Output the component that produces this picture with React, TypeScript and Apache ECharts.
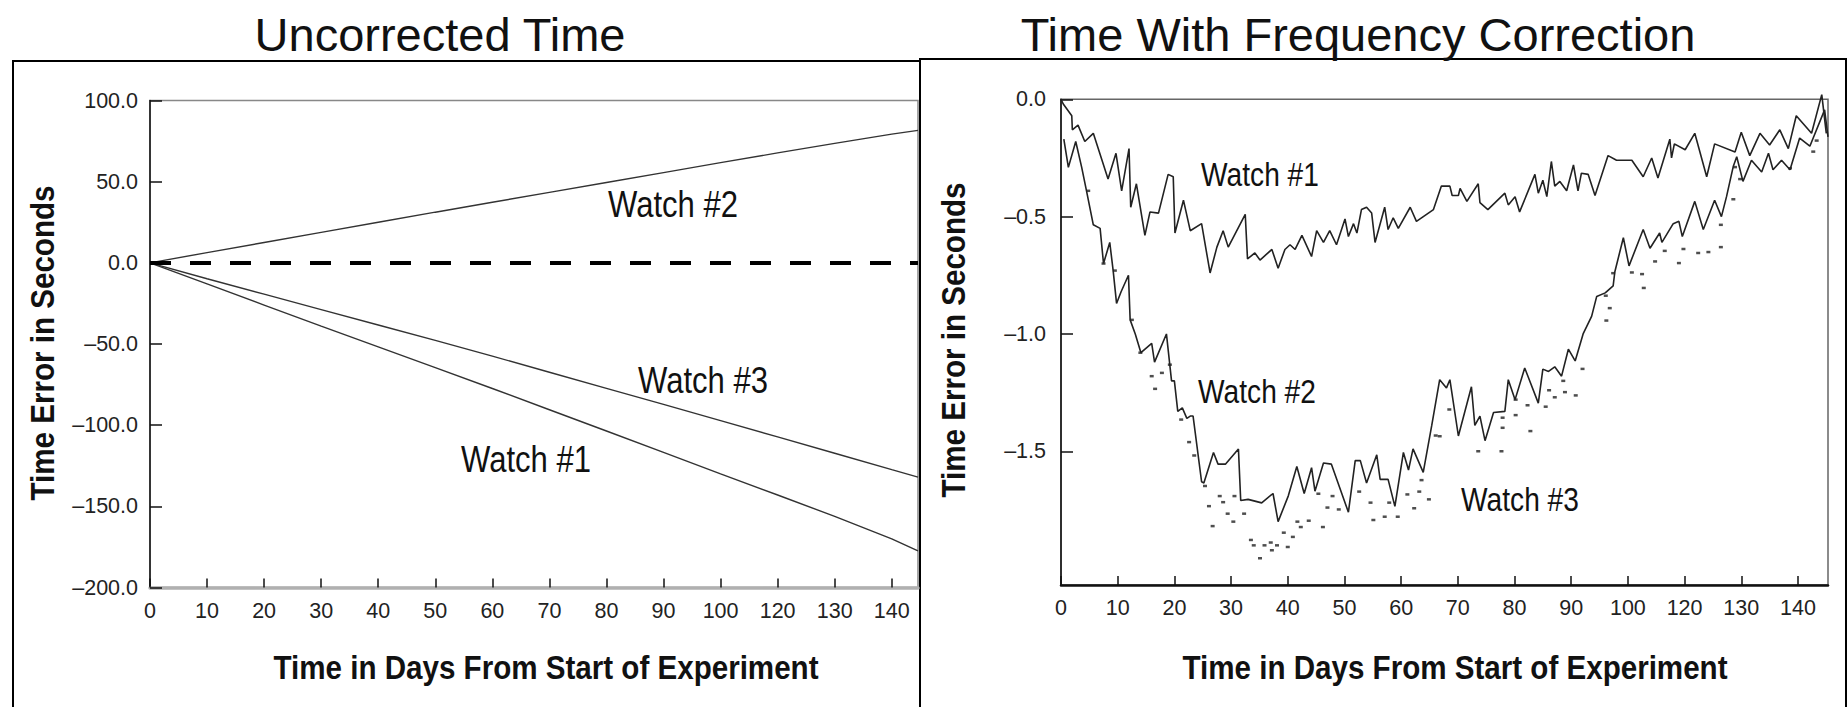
import React, { useEffect, useRef } from "react";
import * as echarts from "echarts";

// Shared day axis (the printed labels skip 110)
const dayTicks = [0, 10, 20, 30, 40, 50, 60, 70, 80, 90, 100, 110, 120, 130];
const dayTickLabels = ["0", "10", "20", "30", "40", "50", "60", "70", "80", "90", "100", "120", "130", "140"];

// Uncorrected time axis
const rawTicks = [100, 50, 0, -50, -100, -150, -200];
const rawTickLabels = ["100.0", "50.0", "0.0", "–50.0", "–100.0", "–150.0", "–200.0"];

// Frequency-corrected axis
const corrTicks = [0, -0.5, -1, -1.5];
const corrTickLabels = ["0.0", "–0.5", "–1.0", "–1.5"];

// Uncorrected time error (seconds)
const rawDays = [0, 10, 20, 30, 40, 50, 60, 70, 80, 90, 100, 110, 120, 130, 134.6];
const rawWatch1 = [0, -13.0, -26.0, -39.0, -51.8, -64.6, -77.4, -90.5, -103.6, -116.8, -130.0, -143.0, -156.2, -170.0, -177.5];
const rawWatch2 = [0, 6.3, 12.5, 18.8, 25.0, 31.2, 37.3, 43.4, 49.5, 55.6, 61.7, 67.7, 73.6, 79.3, 81.6];
const rawWatch3 = [0, -9.8, -19.3, -28.8, -38.3, -47.8, -57.5, -67.4, -77.3, -87.2, -97.2, -107.2, -117.3, -127.4, -132.0];

// Time error with frequency correction (seconds)
const corrWatch1: [number, number][] = [
  [0, 0], [0.4, -0.02], [1.9, -0.07], [2.0, -0.13], [3.0, -0.11], [4.2, -0.18], [5.7, -0.145], [8.3, -0.34],
  [9.7, -0.23], [10.7, -0.39], [12.0, -0.21], [12.3, -0.46], [13.3, -0.36], [14.8, -0.58], [15.7, -0.48],
  [17.2, -0.485], [18.9, -0.32], [19.8, -0.33], [20.1, -0.57], [21.6, -0.43], [22.8, -0.56], [24.8, -0.53],
  [26.3, -0.74], [27.5, -0.63], [28.6, -0.56], [29.5, -0.63], [32.5, -0.49], [32.9, -0.68], [34.2, -0.655],
  [35.1, -0.685], [37.2, -0.64], [38.3, -0.72], [39.5, -0.64], [40.4, -0.62], [41.3, -0.64], [42.5, -0.58],
  [44.2, -0.67], [45.1, -0.56], [46.3, -0.61], [47.4, -0.56], [48.6, -0.62], [50.1, -0.51], [50.7, -0.585],
  [51.6, -0.53], [52.2, -0.57], [53.0, -0.47], [53.9, -0.46], [54.8, -0.485], [55.4, -0.61], [57.1, -0.46],
  [57.7, -0.555], [58.6, -0.505], [59.5, -0.55], [61.6, -0.46], [62.7, -0.52], [65.7, -0.47], [67.1, -0.37],
  [68.6, -0.37], [69.0, -0.41], [70.1, -0.41], [70.4, -0.38], [71.6, -0.435], [73.6, -0.36], [73.9, -0.44],
  [75.3, -0.47], [76.8, -0.435], [78.3, -0.4], [78.9, -0.45], [80.1, -0.415], [80.9, -0.48], [83.6, -0.32],
  [84.2, -0.4], [85.0, -0.345], [85.7, -0.415], [86.5, -0.265], [87.1, -0.37], [88.0, -0.35], [89.2, -0.39],
  [90.4, -0.28], [91.2, -0.39], [91.8, -0.315], [93.0, -0.32], [94.2, -0.41], [96.5, -0.24], [98.0, -0.26],
  [100.7, -0.26], [102.7, -0.33], [104.2, -0.25], [105.3, -0.335], [107.4, -0.17], [107.7, -0.25],
  [108.2, -0.19], [110.1, -0.215], [111.8, -0.145], [113.9, -0.33], [115.3, -0.19], [118.9, -0.225],
  [120.0, -0.14], [121.5, -0.24], [123.3, -0.145], [125.0, -0.195], [126.8, -0.13], [128.3, -0.21],
  [129.7, -0.07], [132.4, -0.145], [134.2, 0.02], [135.0, -0.145],
];

const corrWatch2: [number, number][] = [
  [0.5, -0.17], [1.3, -0.29], [2.6, -0.18], [3.65, -0.29], [4.5, -0.39], [5.7, -0.535], [6.9, -0.55],
  [7.5, -0.7], [8.6, -0.61], [9.2, -0.73], [9.8, -0.87], [10.6, -0.82], [11.9, -0.75], [12.2, -0.94],
  [13.1, -1.0], [14.1, -1.08], [16.0, -1.04], [16.5, -1.12], [18.6, -1.0], [19.5, -1.2], [20.0, -1.2],
  [20.6, -1.33], [21.4, -1.315], [22.2, -1.36], [22.8, -1.35], [23.3, -1.35], [24.8, -1.63], [25.2, -1.635],
  [26.9, -1.505], [27.7, -1.555], [29.0, -1.555], [31.3, -1.49], [31.7, -1.71], [33.0, -1.705], [35.4, -1.72],
  [37.4, -1.68], [38.3, -1.8], [40.1, -1.69], [41.6, -1.565], [42.9, -1.68], [44.2, -1.57], [44.8, -1.67],
  [46.3, -1.55], [47.7, -1.555], [50.7, -1.76], [51.9, -1.54], [52.8, -1.54], [53.9, -1.635], [55.7, -1.515],
  [56.3, -1.62], [57.7, -1.62], [58.9, -1.735], [60.4, -1.505], [61.3, -1.58], [62.1, -1.49], [63.9, -1.59],
  [65.4, -1.39], [66.8, -1.195], [68.0, -1.23], [68.6, -1.195], [70.1, -1.435], [72.4, -1.225], [73.0, -1.39],
  [73.9, -1.35], [74.8, -1.455], [76.3, -1.335], [78.3, -1.33], [78.9, -1.195], [80.1, -1.28], [81.8, -1.145],
  [84.2, -1.295], [85.0, -1.15], [86.0, -1.16], [87.1, -1.14], [88.3, -1.18], [89.5, -1.065], [90.7, -1.115],
  [92.1, -1.0], [93.6, -0.925], [94.5, -0.84], [96.0, -0.825], [97.4, -0.795], [97.7, -0.735], [99.2, -0.59],
  [100.2, -0.71], [102.7, -0.555], [103.9, -0.635], [105.6, -0.57], [106.0, -0.61], [108.0, -0.53],
  [109.0, -0.52], [109.6, -0.585], [111.8, -0.435], [113.3, -0.555], [115.3, -0.43], [116.5, -0.5],
  [117.4, -0.415], [118.6, -0.285], [119.2, -0.245], [120.3, -0.35], [121.8, -0.26], [123.6, -0.31],
  [124.8, -0.23], [125.6, -0.3], [127.1, -0.26], [128.6, -0.3], [130.3, -0.165], [132.1, -0.2],
  [134.7, -0.045], [135.3, -0.16],
];

const corrWatch3: [number, number][] = [
  [4.8, -0.39], [7.5, -0.7], [9.5, -0.73], [12.5, -0.94], [14.0, -1.08], [16.0, -1.18], [16.6, -1.234],
  [17.8, -1.166], [19.2, -1.131], [21.2, -1.365], [22.6, -1.461], [23.5, -1.518], [25.4, -1.648],
  [26.1, -1.734], [26.75, -1.819], [28.0, -1.691], [28.6, -1.717], [29.4, -1.766], [30.4, -1.8],
  [30.6, -1.691], [32.3, -1.766], [33.5, -1.878], [34.0, -1.901], [35.1, -1.956], [35.9, -1.901],
  [37.0, -1.889], [37.2, -1.922], [38.1, -1.901], [39.3, -1.847], [40.0, -1.908], [40.9, -1.865],
  [41.7, -1.8], [42.3, -1.823], [43.7, -1.796], [45.4, -1.681], [46.2, -1.823], [47.0, -1.74],
  [47.9, -1.691], [49.0, -1.748], [52.6, -1.672], [54.6, -1.719], [55.1, -1.793], [57.1, -1.779],
  [57.9, -1.719], [59.4, -1.779], [61.1, -1.684], [62.3, -1.743], [63.2, -1.672], [63.6, -1.623],
  [64.9, -1.705], [66.1, -1.433], [66.8, -1.436], [68.5, -1.322], [73.6, -1.5], [77.7, -1.5],
  [77.9, -1.357], [77.9, -1.4], [80.2, -1.28], [80.2, -1.346], [82.3, -1.304], [82.8, -1.414],
  [85.5, -1.31], [86.1, -1.24], [87.1, -1.27], [88.6, -1.2], [88.9, -1.248], [90.8, -1.262], [92.0, -1.149],
  [96.1, -0.837], [96.2, -0.943], [96.8, -0.89], [97.4, -0.741], [100.7, -0.738], [102.5, -0.745],
  [102.8, -0.804], [104.8, -0.691], [106.5, -0.646], [109.0, -0.698], [109.8, -0.638], [112.4, -0.655],
  [114.2, -0.651], [116.4, -0.63], [116.4, -0.535], [118.6, -0.426], [118.9, -0.289], [119.8, -0.34],
  [128.6, -0.294], [132.7, -0.223], [133.3, -0.176],
];

const SANS = "'Liberation Sans', Arial, Helvetica, sans-serif";

function lookup(values: number[], labels: string[]) {
  return (v: number) => {
    const i = values.findIndex((t) => Math.abs(t - v) < 1e-6);
    return i >= 0 ? labels[i] : "";
  };
}

function dayAxis(gridIndex: number, max: number, lineColor: string, lineWidth: number) {
  return {
    type: "value",
    gridIndex,
    min: 0,
    max,
    axisLine: { onZero: false, lineStyle: { color: lineColor, width: lineWidth } },
    axisTick: { inside: true, length: 9, customValues: dayTicks, lineStyle: { color: "#111", width: 1.5 } },
    axisLabel: {
      customValues: dayTicks,
      formatter: lookup(dayTicks, dayTickLabels),
      margin: 12,
      fontFamily: SANS,
      fontSize: 21.5,
      color: "#222",
    },
    splitLine: { show: false },
  };
}

function errorAxis(gridIndex: number, min: number, max: number, ticks: number[], labels: string[], margin: number) {
  return {
    type: "value",
    gridIndex,
    min,
    max,
    axisLine: { onZero: false, lineStyle: { color: "#111", width: 1.5 } },
    axisTick: { inside: true, length: 12, customValues: ticks, lineStyle: { color: "#111", width: 1.5 } },
    axisLabel: {
      customValues: ticks,
      formatter: lookup(ticks, labels),
      margin,
      fontFamily: SANS,
      fontSize: 21.5,
      color: "#222",
    },
    splitLine: { show: false },
  };
}

// Text drawn in a narrowed face: the run is squeezed along its own direction
function text(str: string, x: number, y: number, size: number, weight = "normal", squeeze = 1, rotation = 0) {
  return {
    type: "text",
    x,
    y,
    rotation,
    scaleX: squeeze,
    silent: true,
    style: {
      text: str,
      fontFamily: SANS,
      fontSize: size,
      fontWeight: weight,
      fill: "#111",
      align: "center",
      verticalAlign: "middle",
    },
  };
}

export default function App() {
  const ref = useRef<HTMLDivElement>(null);

  useEffect(() => {
    document.body.style.margin = "0";
    if (!ref.current) return;
    const chart = echarts.init(ref.current, null, { renderer: "svg" });

    const rawSeries = (data: number[], name: string, extra: any = {}) => ({
      type: "line",
      name,
      xAxisIndex: 0,
      yAxisIndex: 0,
      data: rawDays.map((d, i) => [d, data[i]]),
      showSymbol: false,
      symbol: "none",
      lineStyle: { color: "#333", width: 1.4 },
      z: 3,
      ...extra,
    });

    chart.setOption({
      animation: false,
      backgroundColor: "#ffffff",
      grid: [
        { left: 150, top: 100.5, width: 768, height: 487, show: true, borderColor: "#888", borderWidth: 1.5 },
        { left: 1061, top: 99.3, width: 767, height: 485.7, show: true, borderColor: "#666", borderWidth: 1.5 },
      ],
      xAxis: [dayAxis(0, 134.6, "#b0b0b0", 3.5), dayAxis(1, 135.3, "#111", 2.5)],
      yAxis: [
        errorAxis(0, -200, 100, rawTicks, rawTickLabels, 12),
        errorAxis(1, -2.07, 0, corrTicks, corrTickLabels, 15),
      ],
      series: [
        rawSeries(rawWatch2, "Watch #2", {
          markLine: {
            silent: true,
            symbol: ["none", "none"],
            label: { show: false },
            lineStyle: { color: "#000", width: 4, type: [21, 19] },
            data: [{ yAxis: 0 }],
          },
        }),
        rawSeries(rawWatch3, "Watch #3"),
        rawSeries(rawWatch1, "Watch #1"),
        {
          type: "line",
          name: "Watch #1 corrected",
          xAxisIndex: 1,
          yAxisIndex: 1,
          data: corrWatch1,
          showSymbol: false,
          symbol: "none",
          clip: false,
          lineStyle: { color: "#222", width: 1.6 },
        },
        {
          type: "line",
          name: "Watch #2 corrected",
          xAxisIndex: 1,
          yAxisIndex: 1,
          data: corrWatch2,
          showSymbol: false,
          symbol: "none",
          clip: false,
          lineStyle: { color: "#222", width: 1.6 },
        },
        {
          type: "scatter",
          name: "Watch #3 corrected",
          xAxisIndex: 1,
          yAxisIndex: 1,
          data: corrWatch3,
          symbol: "rect",
          symbolSize: [4, 2.5],
          itemStyle: { color: "#222" },
        },
      ],
      graphic: {
        elements: [
          { type: "rect", silent: true, z: -10, shape: { x: 13, y: 61, width: 907, height: 720 }, style: { fill: "none", stroke: "#000", lineWidth: 2 } },
          { type: "rect", silent: true, z: -10, shape: { x: 920, y: 59, width: 926, height: 720 }, style: { fill: "none", stroke: "#000", lineWidth: 2 } },
          text("Uncorrected Time", 440, 34, 47),
          text("Time With Frequency Correction", 1358, 34, 47),
          text("Time Error in Seconds", 42, 343, 34, "bold", 0.87, Math.PI / 2),
          text("Time Error in Seconds", 953, 340, 34, "bold", 0.87, Math.PI / 2),
          text("Time in Days From Start of Experiment", 546, 667, 34, "bold", 0.87),
          text("Time in Days From Start of Experiment", 1455, 667, 34, "bold", 0.87),
          text("Watch #2", 673, 204, 37, "normal", 0.84),
          text("Watch #3", 703, 380, 37, "normal", 0.84),
          text("Watch #1", 526, 459, 37, "normal", 0.84),
          text("Watch #1", 1260, 175, 33.5, "normal", 0.84),
          text("Watch #2", 1257, 392, 33.5, "normal", 0.84),
          text("Watch #3", 1520, 500, 33.5, "normal", 0.84),
        ],
      },
    });

    return () => chart.dispose();
  }, []);

  return <div ref={ref} style={{ width: 1848, height: 707, overflow: "hidden" }} />;
}
